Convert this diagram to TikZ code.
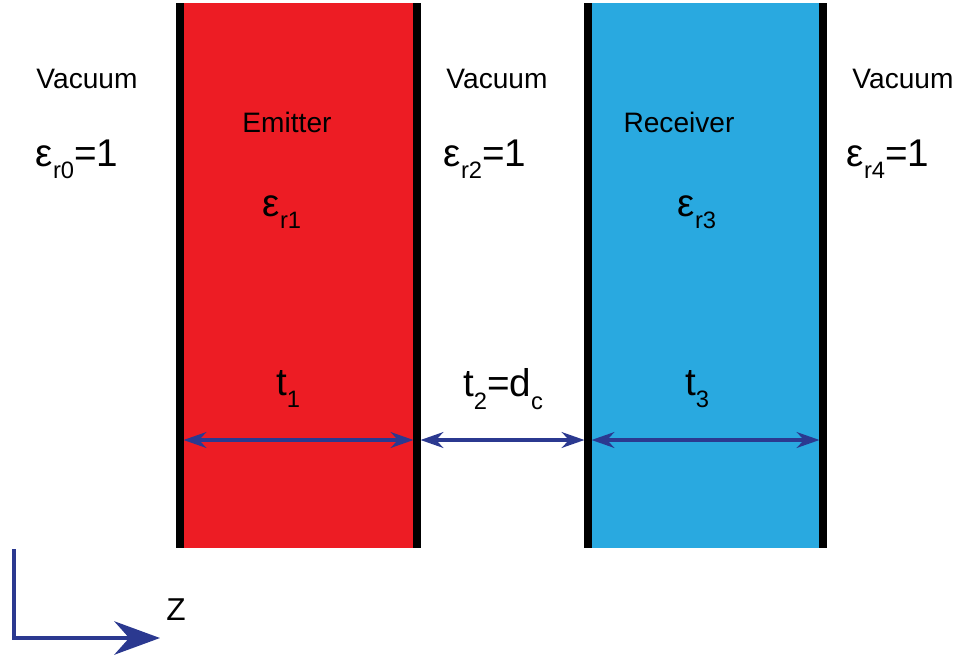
\documentclass[tikz,border=0pt]{standalone}
\usepackage{fontspec}
\setmainfont{Liberation Sans}
\usetikzlibrary{arrows.meta,positioning}
\definecolor{emitred}{HTML}{ED1C24}
\definecolor{recvblue}{HTML}{29A9E0}
\definecolor{dimblue}{HTML}{2B3990}
\tikzstyle{wall}=[line width=4pt,black]
\tikzstyle{med}=[font=\fontsize{16}{18}\selectfont,inner sep=0pt]
\tikzstyle{eps}=[font=\fontsize{22}{24}\selectfont,inner sep=0pt]
\tikzstyle{dim}=[{Stealth[length=13pt,width=9pt]}-{Stealth[length=13pt,width=9pt]},line width=2pt,dimblue,shorten <=2pt,shorten >=2pt]
\tikzstyle{zax}=[-{Stealth[length=26pt,width=19pt]},line width=2.2pt,dimblue]
\newcommand{\lowsub}[1]{\raisebox{-0.6ex}{\fontsize{13.5}{15}\selectfont #1}}

\begin{document}
\begin{tikzpicture}[x=0.02cm,y=-0.02cm]
\useasboundingbox (0,0) rectangle (956,656);
% slabs
\fill[emitred] (180,3) rectangle (417,548);
\fill[recvblue] (588,3) rectangle (823,548);
\foreach \n/\x in {a/180,b/417,c/588,d/823} {
  \coordinate (top\n) at (\x,3);
  \coordinate (bot\n) at (\x,548);
  \coordinate (mid\n) at (\x,440);
}
\draw[dim] (mida) -- (midb);
\draw[dim] (midb) -- (midc);
\draw[dim] (midc) -- (midd);
\foreach \n in {a,b,c,d} \draw[wall] (top\n) -- (bot\n);
% labels
\node[med] (vac0) at (87,79) {Vacuum};
\node[med] (vac2) at (497,79) {Vacuum};
\node[med] (vac4) at (903,79) {Vacuum};
\node[med] (emit) at (287,122) {Emitter};
\node[med] (recv) at (679,122) {Receiver};
\node[eps] (eps0) at (77,159) {ε\lowsub{r0}=1};
\node[eps] (eps2) at (485,159) {ε\lowsub{r2}=1};
\node[eps] (eps4) at (888,159) {ε\lowsub{r4}=1};
\node[eps] (eps1) at (282,212) {ε\lowsub{r1}};
\node[eps] (eps3) at (697,212) {ε\lowsub{r3}};
\node[eps] (t1) at (288,389) {t\lowsub{1}};
\node[eps] (t2) at (503,389) {t\lowsub{2}=d\lowsub{c}};
\node[eps] (t3) at (697,389) {t\lowsub{3}};
% axis
\coordinate (ztop) at (14,549);
\coordinate (zcorner) at (14,638);
\coordinate (zend) at (160,638);
\draw[zax] (ztop) -- (zcorner) -- (zend);
\node[font=\fontsize{18}{20}\selectfont,inner sep=0pt] (zlab) at (176,610) {Z};
\end{tikzpicture}
\end{document}
